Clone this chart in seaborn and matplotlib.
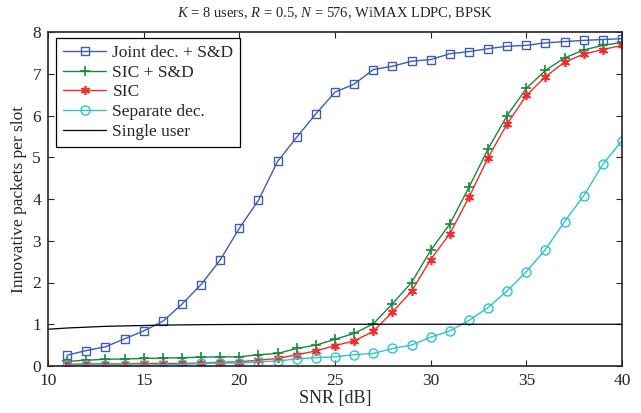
import numpy as np
import pandas as pd
import matplotlib
matplotlib.use("Agg")
import matplotlib.pyplot as plt
import seaborn as sns

snr = list(range(11, 41))
snr_single = list(range(10, 41))

joint_sd = [0.26, 0.37, 0.46, 0.65, 0.84, 1.07, 1.48, 1.95, 2.54, 3.30,
            3.97, 4.90, 5.48, 6.04, 6.56, 6.75, 7.10, 7.18, 7.30, 7.34,
            7.48, 7.53, 7.60, 7.66, 7.68, 7.74, 7.77, 7.80, 7.82, 7.84]
sic_sd = [0.11, 0.14, 0.16, 0.17, 0.18, 0.19, 0.20, 0.21, 0.22, 0.22,
          0.27, 0.30, 0.42, 0.50, 0.64, 0.78, 1.01, 1.49, 2.00, 2.77,
          3.40, 4.28, 5.20, 6.00, 6.65, 7.08, 7.38, 7.57, 7.68, 7.75]
sic = [0.04, 0.05, 0.05, 0.05, 0.06, 0.06, 0.06, 0.07, 0.09, 0.10,
       0.14, 0.18, 0.27, 0.36, 0.49, 0.60, 0.83, 1.29, 1.79, 2.55,
       3.17, 4.04, 4.99, 5.80, 6.48, 6.93, 7.28, 7.47, 7.58, 7.68]
separate = [0.02, 0.02, 0.02, 0.02, 0.02, 0.03, 0.04, 0.06, 0.07, 0.07,
            0.10, 0.12, 0.17, 0.20, 0.22, 0.27, 0.30, 0.42, 0.50, 0.69,
            0.84, 1.09, 1.40, 1.80, 2.26, 2.79, 3.46, 4.08, 4.83, 5.40]
single_user = [0.88, 0.91, 0.93, 0.95, 0.96, 0.97, 0.98, 0.985, 0.99, 0.993,
               0.995, 0.997, 0.998, 0.999, 1.0, 1.0, 1.0, 1.0, 1.0, 1.0,
               1.0, 1.0, 1.0, 1.0, 1.0, 1.0, 1.0, 1.0, 1.0, 1.0, 1.0]

labels = ["Joint dec. + S&D", "SIC + S&D", "SIC", "Separate dec.", "Single user"]

sns.set_style("ticks")
plt.rcParams["font.family"] = ["Liberation Serif", "DejaVu Serif"]
plt.rcParams["mathtext.fontset"] = "custom"
plt.rcParams["mathtext.it"] = "Liberation Serif:italic"
plt.rcParams["mathtext.rm"] = "Liberation Serif"

fig = plt.figure(figsize=(6.41, 4.13), dpi=100)
ax = fig.add_axes([48 / 641, 1 - 366 / 413, 574 / 641, 334 / 413])

asterisk = (6, 2, 0)
sns.lineplot(x=snr, y=joint_sd, ax=ax, color="#3c5cb8", lw=1, marker="s", ms=5.5,
             mfc="none", mec="#3c5cb8", mew=1, label=labels[0])
sns.lineplot(x=snr, y=sic_sd, ax=ax, color="#148a3c", lw=1, marker="+", ms=7.5,
             mec="#148a3c", mew=1.2, label=labels[1])
sns.lineplot(x=snr, y=sic, ax=ax, color="#f52a2a", lw=1, marker=asterisk, ms=6.5,
             mec="#f52a2a", mew=1.2, label=labels[2])
sns.lineplot(x=snr, y=separate, ax=ax, color="#2ec4c8", lw=1, marker="o", ms=6.5,
             mfc="none", mec="#2ec4c8", mew=1, label=labels[3])
sns.lineplot(x=snr_single, y=single_user, ax=ax, color="black", lw=0.9,
             label=labels[4])

ax.set_xlim(10, 40)
ax.set_ylim(0, 8)
ax.set_xticks(range(10, 41, 5))
ax.set_yticks(range(0, 9))
ax.tick_params(direction="in", top=True, right=True, labelsize=12.5, length=4,
               width=0.8)
ax.tick_params(axis="x", pad=5)
ax.tick_params(axis="y", pad=5)
for s in ax.spines.values():
    s.set_linewidth(1.2)
    s.set_visible(True)
ax.set_xlabel("SNR [dB]", fontsize=13, labelpad=1)
ax.set_ylabel("Innovative packets per slot", fontsize=12.5, labelpad=4)
ax.set_title("$K$ = 8 users, $R$ = 0.5, $N$ = 576, WiMAX LDPC, BPSK",
             fontsize=10.5, pad=11)

leg = ax.legend(loc="upper left", bbox_to_anchor=(8 / 574, 1 - 6 / 334),
                borderaxespad=0, fontsize=12.5, frameon=True, fancybox=False,
                framealpha=1, edgecolor="black", borderpad=0.4,
                labelspacing=0.2, handlelength=2.5, handletextpad=0.35)
leg.get_frame().set_linewidth(0.9)

fig.savefig("out.png", dpi=100)
